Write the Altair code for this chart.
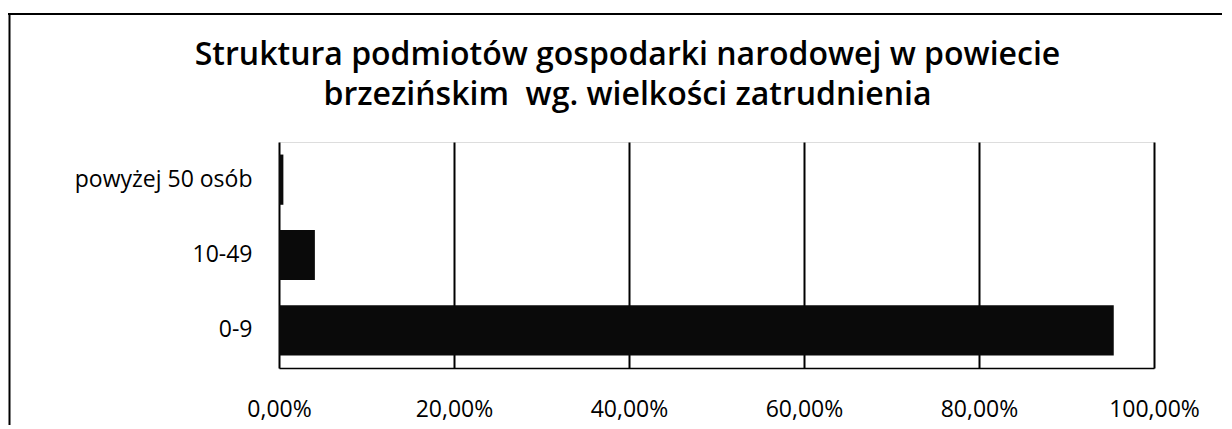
import altair as alt
import pandas as pd

categories = ["powyżej 50 osób", "10-49", "0-9"]
shares = [0.005, 0.041, 0.954]
tick_values = [0.0, 0.2, 0.4, 0.6, 0.8, 1.0]
title_lines = [
    "Struktura podmiotów gospodarki narodowej w powiecie",
    "brzezińskim\u00a0 wg. wielkości zatrudnienia",
]

df = pd.DataFrame({"kategoria": categories, "udzial": shares})

bars = alt.Chart(df).mark_bar(color="#0a0a0a").encode(
    x=alt.X(
        "udzial:Q",
        scale=alt.Scale(domain=[0, 1], nice=False, zero=True),
        axis=alt.Axis(
            values=tick_values,
            labelExpr="replace(format(datum.value, '.2%'), '.', ',')",
            title=None,
            grid=True,
            gridColor="#000000",
            gridWidth=2,
            gridOpacity=1,
            domain=True,
            domainColor="#000000",
            domainWidth=1.5,
            ticks=False,
            labelFlush=False,
            labelOverlap=False,
            labelPadding=30,
            labelFontSize=23,
            labelColor="#000000",
            labelFont="Open Sans",
        ),
    ),
    y=alt.Y(
        "kategoria:N",
        sort=categories,
        scale=alt.Scale(paddingInner=1 / 3, paddingOuter=1 / 6),
        axis=alt.Axis(
            title=None,
            domain=False,
            ticks=False,
            grid=False,
            labelPadding=27,
            labelFontSize=23,
            labelColor="#000000",
            labelFont="Open Sans",
        ),
    ),
)

border_data = alt.Data(values=[{"b": 1}])
left_border = alt.Chart(border_data).mark_rule(color="#000000", strokeWidth=2).encode(
    x=alt.value(-269.5), y=alt.value(-129), y2=alt.value(300)
)
top_border = alt.Chart(border_data).mark_rule(color="#000000", strokeWidth=2).encode(
    x=alt.value(-271), x2=alt.value(970), y=alt.value(-128)
)

chart = (
    alt.layer(bars, left_border, top_border)
    .properties(
        width=875,
        height=226,
        autosize=alt.AutoSizeParams(type="none"),
        padding={"left": 271, "top": 134, "right": 68, "bottom": 57},
        title=alt.TitleParams(
            text=title_lines,
            font="Open Sans",
            fontSize=32,
            fontWeight=600,
            color="#000000",
            anchor="middle",
            frame="group",
            dx=-89,
            dy=100,
            lineHeight=40,
            offset=0,
        ),
    )
    .configure_view(strokeWidth=0, stroke="transparent")
    .configure(font="Open Sans", background="white")
)

chart.save("out.html", embed_options={"renderer": "svg", "actions": False})
